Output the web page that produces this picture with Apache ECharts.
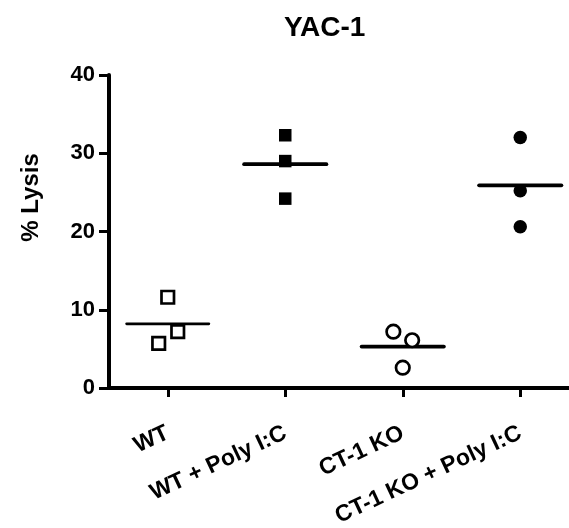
<!DOCTYPE html>
<html>
<head>
<meta charset="utf-8">
<script src="https://cdn.jsdelivr.net/npm/echarts@6/dist/echarts.min.js"></script>
<style>html,body{margin:0;padding:0;background:#fff}#c{width:569px;height:528px}</style>
</head>
<body>
<div id="c"></div>
<script>
var categories = ['WT', 'WT + Poly I:C', 'CT-1 KO', 'CT-1 KO + Poly I:C'];
var yTicks = [0, 10, 20, 30, 40];
var wtValues = [11.6, 7.2, 5.7];
var wtPolyValues = [32.3, 29.0, 24.2];
var koValues = [7.2, 6.1, 2.6];
var koPolyValues = [32.0, 25.2, 20.6];
var meanValues = [8.2, 28.6, 5.3, 25.9];
// horizontal scatter offsets (in category units) of the three replicates in each group
var wtJitter = [0, 0.085, -0.077];
var wtPolyJitter = [0, 0, 0];
var koJitter = [-0.08, 0.08, 0];
var koPolyJitter = [0, 0, 0];

var FONT = 'Liberation Sans, Arial, sans-serif';

function pts(groupIndex, values, jitter) {
  return values.map(function (v, i) { return [groupIndex + 1 + jitter[i], v]; });
}
function meanLine(groupIndex, width) {
  var m = meanValues[groupIndex];
  var c = groupIndex + 1;
  return {
    type: 'line', xAxisIndex: 1, yAxisIndex: 0, z: 2,
    data: [[c - 0.35, m], [c + 0.35, m]],
    symbol: 'none', silent: true,
    lineStyle: { color: '#000', width: width, cap: 'round' }
  };
}
function scatter(groupIndex, values, jitter, symbol, size, filled) {
  return {
    type: 'scatter', xAxisIndex: 1, yAxisIndex: 0, z: 5,
    data: pts(groupIndex, values, jitter),
    symbol: symbol, symbolSize: size,
    itemStyle: filled ? { color: '#000', borderWidth: 0, opacity: 1 }
                      : { color: '#fff', borderColor: '#000', borderWidth: 2.7, opacity: 1 }
  };
}

var chart = echarts.init(document.getElementById('c'), null, { renderer: 'canvas' });
chart.setOption({
  animation: false,
  backgroundColor: '#fff',
  title: {
    text: 'YAC-1', left: 279, top: 9,
    textStyle: { fontFamily: FONT, fontWeight: 'bold', fontSize: 28, color: '#000' }
  },
  grid: { left: 109, right: -10, top: 75, bottom: 140, containLabel: false, outerBoundsMode: 'none' },
  xAxis: [{
    type: 'category', data: categories, boundaryGap: true,
    axisLine: { show: true, lineStyle: { color: '#000', width: 4 } },
    axisTick: { show: true, alignWithLabel: true, length: 9, lineStyle: { color: '#000', width: 3 } },
    axisLabel: {
      rotate: 25, margin: 44, interval: 0,
      fontFamily: FONT, fontWeight: 'bold', fontSize: 23, color: '#000'
    },
    splitLine: { show: false }
  }, {
    type: 'value', min: 0.5, max: 4.5, show: false
  }],
  yAxis: [{
    type: 'value', min: yTicks[0], max: yTicks[yTicks.length - 1], interval: 10,
    name: '% Lysis', nameLocation: 'middle', nameGap: 66, nameRotate: 90,
    nameTextStyle: { fontFamily: FONT, fontWeight: 'bold', fontSize: 24, color: '#000', padding: [0, 0, 0, 68] },
    axisLine: { show: true, lineStyle: { color: '#000', width: 4 } },
    axisTick: { show: true, length: 10, lineStyle: { color: '#000', width: 3 } },
    axisLabel: { margin: 14, fontFamily: FONT, fontWeight: 'bold', fontSize: 22, color: '#000' },
    splitLine: { show: false }
  }],
  series: [
    meanLine(0, 2.7),
    meanLine(1, 3.8),
    meanLine(2, 3.8),
    meanLine(3, 3.8),
    scatter(0, wtValues, wtJitter, 'rect', 12.5, false),
    scatter(1, wtPolyValues, wtPolyJitter, 'rect', 12.5, true),
    scatter(2, koValues, koJitter, 'circle', 13.5, false),
    scatter(3, koPolyValues, koPolyJitter, 'circle', 13.5, true)
  ]
});
</script>
</body>
</html>
